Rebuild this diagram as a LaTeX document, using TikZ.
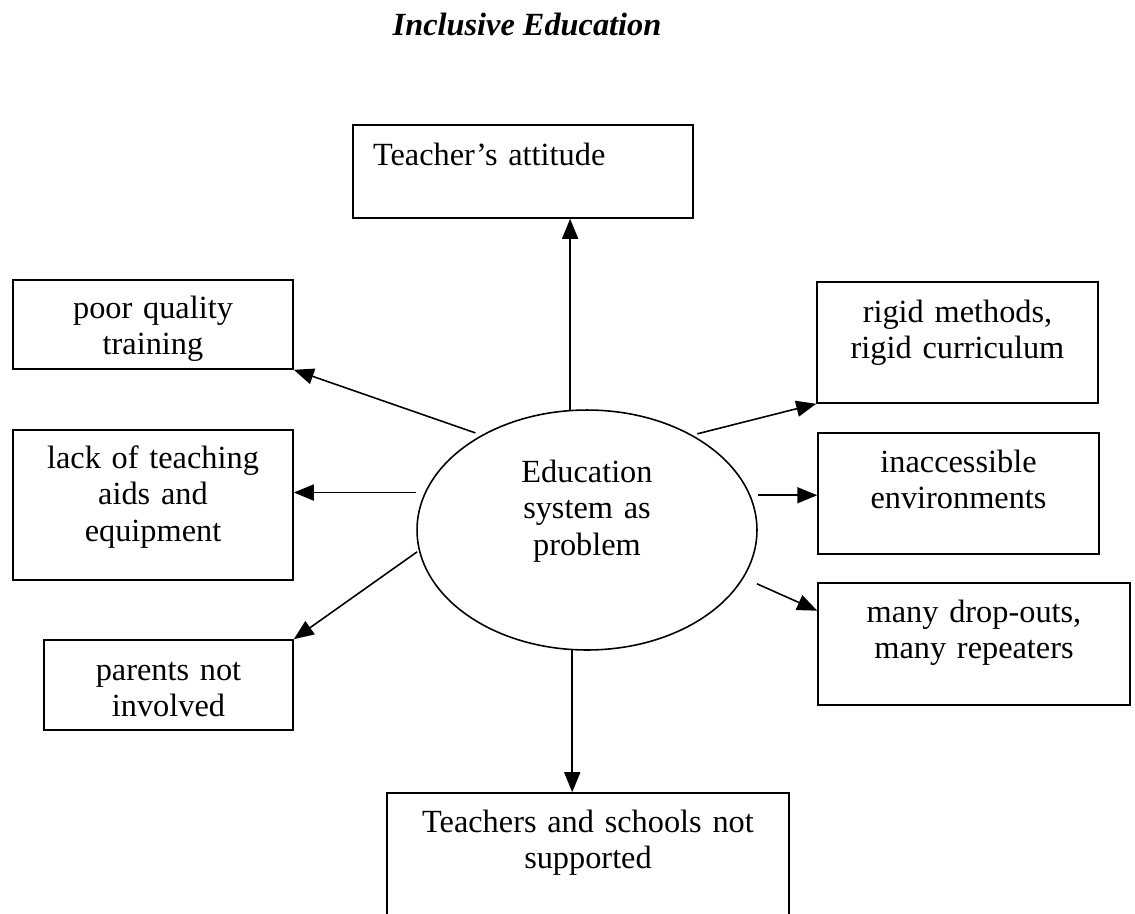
\documentclass[tikz,border=0pt]{standalone}
\usepackage{fontspec}
\setmainfont{Liberation Serif}
\usetikzlibrary{shapes.geometric,arrows.meta}
\tikzstyle{block} = [rectangle, draw, line width=0.9pt, inner sep=0pt, align=center]
\tikzstyle{oval} = [ellipse, draw, line width=0.9pt, inner sep=0pt, align=center]
\tikzstyle{line} = [draw, line width=0.9pt, -{Triangle[length=0.4cm,width=0.32cm]}]

\begin{document}
\begin{tikzpicture}[x=0.02cm, y=-0.02cm, font=\fontsize{18.4}{20.9}\selectfont]
    \useasboundingbox (0,0) rectangle (1135,913);
    \clip (0,0) rectangle (1135,913);
    % Place nodes
    \node [anchor=base, font=\fontsize{18.4}{20.9}\selectfont\bfseries\itshape] (title) at (527,35) {Inclusive Education};
    \node [oval, minimum width=6.8cm, minimum height=4.8cm, text width=3cm,
        text height=0.6cm, text depth=2.52cm] (prob) at (587,530) {Education\\system as\\problem};
    \node [block, align=left, inner xsep=0.4cm, text width=6cm, text height=0.8cm, text depth=1.06cm] (att) at (523,171.5) {Teacher's attitude};
    \node [block, text width=5.6cm, text height=0.76cm, text depth=1.02cm] (poor) at (153,324.5) {poor quality\\training};
    \node [block, text width=5.6cm, text height=0.76cm, text depth=2.24cm] (lack) at (153,505) {lack of teaching\\aids and\\equipment};
    \node [block, text width=4.98cm, text height=0.8cm, text depth=1cm] (parents) at (168.5,685) {parents not\\involved};
    \node [block, text width=5.62cm, text height=0.8cm, text depth=1.62cm] (rigid) at (957.5,342.5) {rigid methods,\\rigid curriculum};
    \node [block, text width=5.62cm, text height=0.78cm, text depth=1.64cm] (inacc) at (958.5,493.5) {inaccessible\\environments};
    \node [block, text width=6.24cm, text height=0.78cm, text depth=1.66cm] (drop) at (974,644) {many drop-outs,\\many repeaters};
    \node [block, text width=8.04cm, text height=0.78cm, text depth=2.36cm] (teach) at (588,871.5) {Teachers and schools not\\supported};
    % Draw edges
    \path [line] (prob.98) -- (prob.98 |- att.south);
    \path [line] (prob.263) -- (prob.263 |- teach.north);
    \path [line, shorten <=0.13cm] (prob.138) -- (poor.south east);
    \path [line, shorten <=0.18cm] (prob.167) -- (prob.167 -| lack.east);
    \path [line, shorten <=0.04cm] (prob.187) -- (parents.north east);
    \path [line, shorten <=0.1cm] (prob.42) -- (rigid.south west);
    \path [line, shorten <=0.14cm] (prob.12) -- (prob.12 -| inacc.west);
    \path [line, shorten <=0.29cm] (prob.343) -- (drop.168);
\end{tikzpicture}
\end{document}
